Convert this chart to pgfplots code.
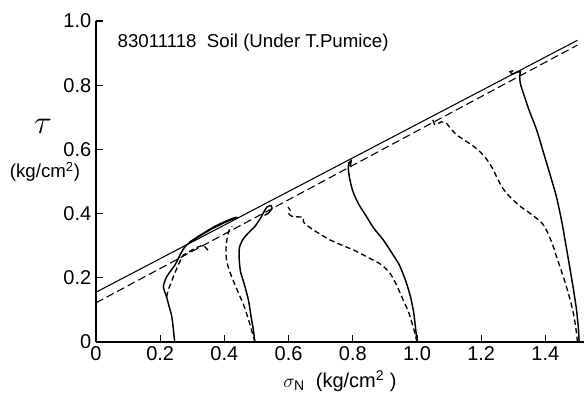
\documentclass[border=0pt]{standalone}
\usepackage{fontspec}
\setmainfont{Liberation Sans}
\usepackage{pgfplots}
\pgfplotsset{compat=1.18}
\begin{document}
\begin{tikzpicture}
\useasboundingbox (-72pt,-40.5pt) rectangle (368.25pt,256.5pt);
\begin{axis}[
  at={(0pt,0pt)}, anchor=south west,
  scale only axis, width=365.94pt, height=240.75pt,
  xmin=0, xmax=1.52, ymin=0, ymax=1.0,
  axis x line=bottom, axis y line=left,
  axis line style={-, line width=0.9pt},
  tick align=inside, major tick length=5pt,
  tick style={line width=0.9pt, black},
  xtick={0,0.2,0.4,0.6,0.8,1.0,1.2,1.4},
  xticklabels={0,0.2,0.4,0.6,0.8,1.0,1.2,1.4},
  ytick={0,0.2,0.4,0.6,0.8,1.0},
  yticklabels={0,0.2,0.4,0.6,0.8,1.0},
  tick label style={font=\fontsize{15}{18}\selectfont},
  /pgf/number format/assume math mode=true,
  clip=false,
]
% failure lines
\addplot[black, line width=0.8pt] coordinates {(0,0.155) (1.50,0.94)};
\addplot[black, line width=0.8pt, dash pattern=on 6pt off 3pt] coordinates {(0,0.122) (1.50,0.925)};

% sigma0 = 0.25
\addplot[black, line width=1.1pt, smooth, tension=0.4] coordinates {
(0.245,0) (0.241,0.04) (0.236,0.08) (0.228,0.11) (0.220,0.14) (0.210,0.172)
(0.220,0.203) (0.246,0.240) (0.267,0.281) (0.282,0.302) (0.32,0.328) (0.36,0.352)
(0.40,0.372) (0.438,0.388) (0.42,0.383) (0.37,0.36) (0.32,0.33) (0.29,0.31)};
\addplot[black, line width=1.0pt, dash pattern=on 4pt off 2.5pt] coordinates {
(0.220,0.14) (0.225,0.162) (0.241,0.203) (0.256,0.240) (0.272,0.271)
(0.282,0.276) (0.308,0.292) (0.334,0.302) (0.350,0.285)};

% sigma0 = 0.5
\addplot[black, line width=1.1pt, smooth, tension=0.4] coordinates {
(0.495,0) (0.490,0.04) (0.483,0.08) (0.475,0.13) (0.462,0.18) (0.450,0.22)
(0.446,0.26) (0.447,0.295) (0.458,0.32) (0.475,0.34) (0.495,0.36) (0.512,0.385)
(0.523,0.405) (0.532,0.42) (0.545,0.425) (0.548,0.415) (0.535,0.40) (0.525,0.395)};
\addplot[black, line width=1.0pt, dash pattern=on 4pt off 2.5pt, smooth, tension=0.4] coordinates {
(0.495,0) (0.478,0.06) (0.462,0.11) (0.445,0.15) (0.428,0.19) (0.413,0.23)
(0.406,0.26) (0.405,0.29) (0.408,0.32) (0.412,0.34) (0.418,0.355) (0.425,0.36)};

% sigma0 = 1.0
\addplot[black, line width=1.1pt, smooth, tension=0.4] coordinates {
(1.0,0) (0.997,0.03) (0.99,0.09) (0.98,0.14) (0.965,0.19) (0.945,0.24)
(0.92,0.28) (0.895,0.318) (0.865,0.355) (0.84,0.395) (0.818,0.43) (0.80,0.47)
(0.79,0.51) (0.786,0.54) (0.788,0.558) (0.795,0.565) (0.792,0.548)};
\addplot[black, line width=1.0pt, dash pattern=on 4pt off 2.5pt, smooth, tension=0.4] coordinates {
(1.0,0) (0.99,0.04) (0.975,0.09) (0.957,0.131) (0.935,0.18) (0.916,0.214)
(0.89,0.24) (0.864,0.255) (0.835,0.27) (0.802,0.287) (0.765,0.302) (0.729,0.318)
(0.70,0.335) (0.677,0.349) (0.655,0.365) (0.646,0.375) (0.646,0.388) (0.625,0.390)
(0.61,0.392) (0.60,0.40) (0.605,0.41) (0.598,0.42)};

% sigma0 = 1.5
\addplot[black, line width=1.1pt, smooth, tension=0.4] coordinates {
(1.505,0) (1.503,0.04) (1.497,0.10) (1.488,0.16) (1.478,0.22) (1.466,0.29)
(1.452,0.37) (1.435,0.45) (1.415,0.52) (1.394,0.59) (1.373,0.66) (1.35,0.72)
(1.333,0.77) (1.322,0.805) (1.320,0.83) (1.322,0.842) (1.31,0.84) (1.298,0.835)
(1.29,0.842) (1.30,0.845)};
\addplot[black, line width=1.0pt, dash pattern=on 4pt off 2.5pt, smooth, tension=0.4] coordinates {
(1.50,0) (1.494,0.05) (1.485,0.10) (1.472,0.15) (1.457,0.20) (1.44,0.25)
(1.42,0.31) (1.40,0.355) (1.385,0.375) (1.352,0.401) (1.325,0.42) (1.30,0.442)
(1.28,0.462) (1.264,0.484) (1.25,0.51) (1.238,0.536) (1.22,0.565) (1.201,0.588)
(1.18,0.607) (1.155,0.624) (1.124,0.645) (1.105,0.665) (1.092,0.681) (1.077,0.686)
(1.065,0.68) (1.055,0.678) (1.05,0.69) (1.045,0.70)};

% texts
\node[anchor=base west, font=\fontsize{14}{16}\selectfont] at (axis cs:0.053,0.916) {83011118\ \ Soil (Under T.Pumice)};
\node[font=\fontsize{24}{26}\selectfont] at (axis cs:-0.165,0.673) {$\tau$};
\node[font=\fontsize{14}{16}\selectfont] at (axis cs:-0.159,0.530) {(kg/cm\textsuperscript{2})};
\node[font=\fontsize{15}{18}\selectfont] at (axis cs:0.760,-0.121) {$\sigma_{\mathrm{N}}$\ \ (kg/cm\textsuperscript{2} )};
\end{axis}
\end{tikzpicture}
\end{document}
